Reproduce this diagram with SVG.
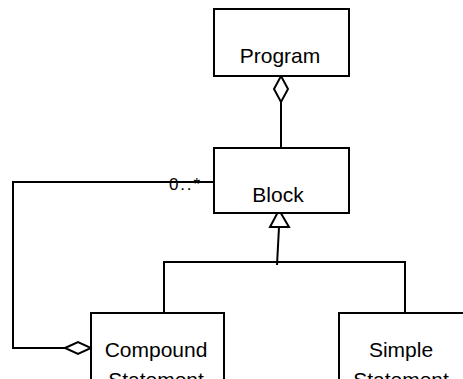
<svg xmlns="http://www.w3.org/2000/svg" width="463" height="379" viewBox="0 0 463 379">
  <style>
    .box { fill: #ffffff; stroke: #000000; stroke-width: 2; }
    .line { fill: none; stroke: #000000; stroke-width: 2; }
    .hollow { fill: #ffffff; stroke: #000000; stroke-width: 2; stroke-linejoin: miter; }
    .label { font-family: "Liberation Sans", Arial, sans-serif; font-size: 21px; fill: #000000; text-anchor: middle; }
    .mult { font-family: "Liberation Sans", Arial, sans-serif; font-size: 17px; fill: #000000; }
  </style>
  <rect width="463" height="379" fill="#ffffff"/>

  <!-- connectors -->
  <g id="connectors">
    <!-- Program aggregates Block -->
    <line class="line" x1="281" y1="102" x2="281" y2="148"/>
    <polygon class="hollow" points="281,76 288,89 281,102 274,89"/>
    <!-- generalization tree -->
    <line class="line" x1="279" y1="227" x2="277" y2="265"/>
    <polyline class="line" points="164,313 164,262 405,262 405,313"/>
    <polygon class="hollow" points="279,210 289,227 270,227"/>
    <!-- Compound Statement aggregates Block 0..* -->
    <polyline class="line" points="214,182 13,182 13,348 65,348"/>
    <polygon class="hollow" points="65,348 78,342 91,348 78,354"/>
    <text class="mult" x="169" y="190" textLength="31">0..*</text>
  </g>

  <g id="program">
    <rect class="box" x="214" y="9" width="135" height="67"/>
    <text class="label" x="280" y="63">Program</text>
  </g>

  <g id="block">
    <rect class="box" x="214" y="148" width="135" height="65"/>
    <text class="label" x="278" y="202">Block</text>
  </g>

  <g id="compound-statement">
    <rect class="box" x="91" y="313" width="133" height="80"/>
    <text class="label" x="156" y="357">Compound</text>
    <text class="label" x="156" y="387">Statement</text>
  </g>

  <g id="simple-statement">
    <rect class="box" x="339" y="313" width="133" height="80"/>
    <text class="label" x="401" y="357">Simple</text>
    <text class="label" x="401" y="387">Statement</text>
  </g>
</svg>
